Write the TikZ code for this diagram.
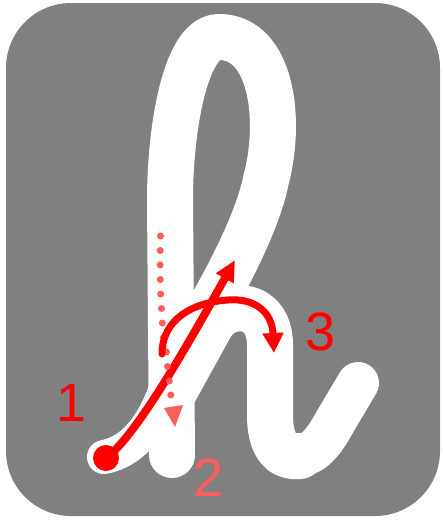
\documentclass[tikz,border=0pt]{standalone}
\usepackage{fontspec}
\setmainfont{Liberation Sans}
\usetikzlibrary{arrows.meta}
\definecolor{bggray}{RGB}{128,128,128}
\definecolor{strokered}{RGB}{255,0,0}
\definecolor{lightred}{RGB}{255,92,92}
\begin{document}
\begin{tikzpicture}[x=1pt,y=-1pt,
  glyph/.style={white,line width=46pt,line cap=round,line join=round},
  redline/.style={strokered,line cap=round,line join=round},
  digit/.style={inner sep=0pt,font=\fontsize{54}{54}\selectfont}]
\useasboundingbox (0,0) rectangle (443,520);
\fill[white] (0,0) rectangle (443,520);
\fill[bggray,rounded corners=65pt] (6,3) rectangle (440,516);
% glyph h
\draw[glyph] (172,370) .. controls (205,320) and (255,235) .. (266,180)
  .. controls (282,120) and (272,37) .. (219,37)
  .. controls (185,37) and (170,130) .. (170,200) -- (172,455);
\draw[glyph,line width=34pt] (104,457) .. controls (130,452) and (155,430) .. (172,370);
\draw[glyph] (174,392) -- (211,325) .. controls (225,300) and (270,300) .. (270,345)
  -- (270,415) .. controls (270,450) and (285,458) .. (300,456);
\draw[glyph,line width=42pt] (300,456) .. controls (315,454) and (325,440) .. (336,420) -- (358,383);
% stroke 1
\draw[redline,line width=8pt,-{Triangle[length=21pt,width=19pt]}]
  (106,458) .. controls (135,437) and (185,350) .. (235,260);
\fill[strokered] (106,458) circle[radius=13pt];
% stroke 2
\foreach \px/\py in {160.5/236,160.2/250.5,160.2/265,160.3/279.5,160.7/294,161.5/308.5,162.3/323,163.5/337.5,166.5/352,167.5/366.5,169.3/381,170.8/395}
  \fill[lightred] (\px,\py) circle[radius=3.5pt];
\fill[lightred] (164,408) -- (183,405) -- (175,427) -- cycle;
% stroke 3
\draw[redline,line width=7pt,-{Triangle[length=20pt,width=20pt]}]
  (162,354) .. controls (162,318) and (195,302) .. (228,300)
  .. controls (255,298) and (272,312) .. (274,353);
% labels
\node[digit,text=strokered] (lab1) at (71.5,402.5) {1};
\node[digit,text=lightred] (lab2) at (208.5,478) {2};
\node[digit,text=strokered] (lab3) at (321,332) {3};
\end{tikzpicture}
\end{document}
